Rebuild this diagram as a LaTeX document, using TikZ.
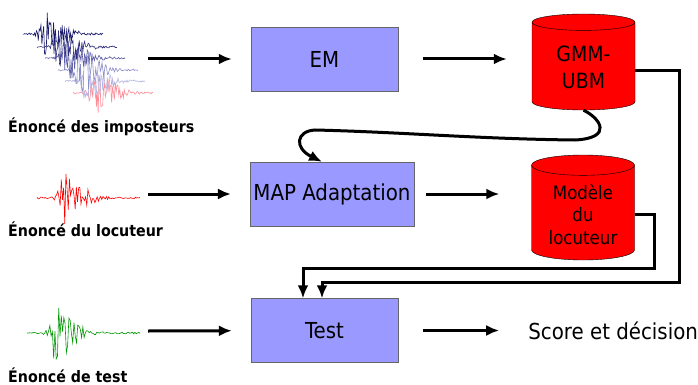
\documentclass[tikz,border=0pt]{standalone}
\usepackage{fontspec}
\setmainfont{DejaVu Sans Condensed}
\usetikzlibrary{positioning, shapes.geometric, arrows.meta, calc}

\definecolor{boxblue}{RGB}{153,153,255}
\definecolor{cylred}{RGB}{255,0,0}
\definecolor{impA}{RGB}{25,25,105}
\definecolor{impB}{RGB}{45,45,125}
\definecolor{impC}{RGB}{90,90,165}
\definecolor{impD}{RGB}{140,140,200}
\definecolor{impE}{RGB}{180,180,225}
\definecolor{impF}{RGB}{255,140,150}
\definecolor{wavegreen}{RGB}{0,150,0}

% speech-like waveform: start x, baseline y, length, colour, burst centre, amplitude
\newcommand{\speechwave}[6]{%
  \draw[#4, line width=0.6pt] plot[domain=0:#3, samples=90, variable=\t]
    ({#1+\t}, {#2 + (0.9 + #6*exp(-((\t-#5)/(\t<#5 ? 6 : 22))*((\t-#5)/(\t<#5 ? 6 : 22))))*rand});
}

\begin{document}
\begin{tikzpicture}[x=1pt, y=-1pt,
    % Define styles for the boxes, models and arrows
    procbox/.style={
        draw=black!60,
        fill=boxblue,
        rectangle,
        minimum width=147pt,
        minimum height=64pt,
        font=\fontsize{22}{26}\selectfont
    },
    model/.style={
        draw=black,
        fill=cylred,
        cylinder,
        shape border rotate=90,
        aspect=0.27,
        minimum width=103pt,
        anchor=shape center,
        align=center
    },
    flow/.style={line width=3pt, -{Latex[length=13pt,width=11pt]}},
    caption/.style={anchor=base west, inner sep=0pt, font=\bfseries\fontsize{15.8}{19}\selectfont}
]
\useasboundingbox (0,0) rectangle (698,385);
\pgfmathsetseed{4711}

% waveforms
\foreach \wx/\wy/\wc in {73/93/impF, 65/81/impE, 58/70/impD, 45/58/impC, 37/47/impB, 23/34/impA}
    \speechwave{\wx}{\wy}{80}{\wc}{22}{22};
\speechwave{37}{198}{103}{red}{28}{26}
\speechwave{27}{333}{113}{wavegreen}{28}{27}

% captions
\node[caption] (impcap) at (8,132) {Énoncé des imposteurs};
\node[caption] (loccap) at (8,236) {Énoncé du locuteur};
\node[caption] (testcap) at (8,382.5) {Énoncé de test};

\coordinate (imp) at (148,59);
\coordinate (loc) at (148,194);
\coordinate (tst) at (148,331);

% processing boxes
\node[procbox] (em) at (324.5,59) {EM};
\node[procbox, minimum width=160pt] (map) at (332,194) {MAP Adaptation};
\node[procbox] (test) at (324.5,330.5) {Test};
\node[right=130pt of test, inner sep=0pt, font=\fontsize{22}{26}\selectfont] (score) {Score et décision};

% models
\node[model, minimum height=96pt, font=\fontsize{21}{27}\selectfont] (gmm) at (583.5,62) {GMM-\\UBM};
\node[model, minimum height=105pt, font=\fontsize{18.5}{22.5}\selectfont] (mod) at (583,207.5) {Modèle\\du\\locuteur};

% Edges
\draw[flow, shorten >=19pt] (imp) -- (em);
\draw[flow, shorten >=19pt] (loc) -- (map);
\draw[flow, shorten >=19pt] (tst) -- (test);
\draw[flow, shorten <=25pt, shorten >=25pt] (em) -- (em -| gmm.west);
\draw[flow, shorten <=12pt, shorten >=32pt] (map) -- (map -| mod.west);
\draw[flow, shorten <=25pt, shorten >=29pt] (test) -- (score);

\draw[flow] (gmm.south) .. controls (600,118) and (614,138) .. (575,140)
    .. controls (480,139) and (400,132) .. (315,130)
    .. controls (296,131) and (294,148) .. ([xshift=-10pt]map.north);

\coordinate (gmmturn) at (679,282);
\coordinate (modturn) at (654,268);
\draw[flow] ([yshift=-3pt]gmm.east) -| (gmmturn) -| ([xshift=-2.5pt]test.north);
\draw[flow] (mod.east) -| (modturn) -| ([xshift=-21.5pt]test.north);

\end{tikzpicture}
\end{document}
